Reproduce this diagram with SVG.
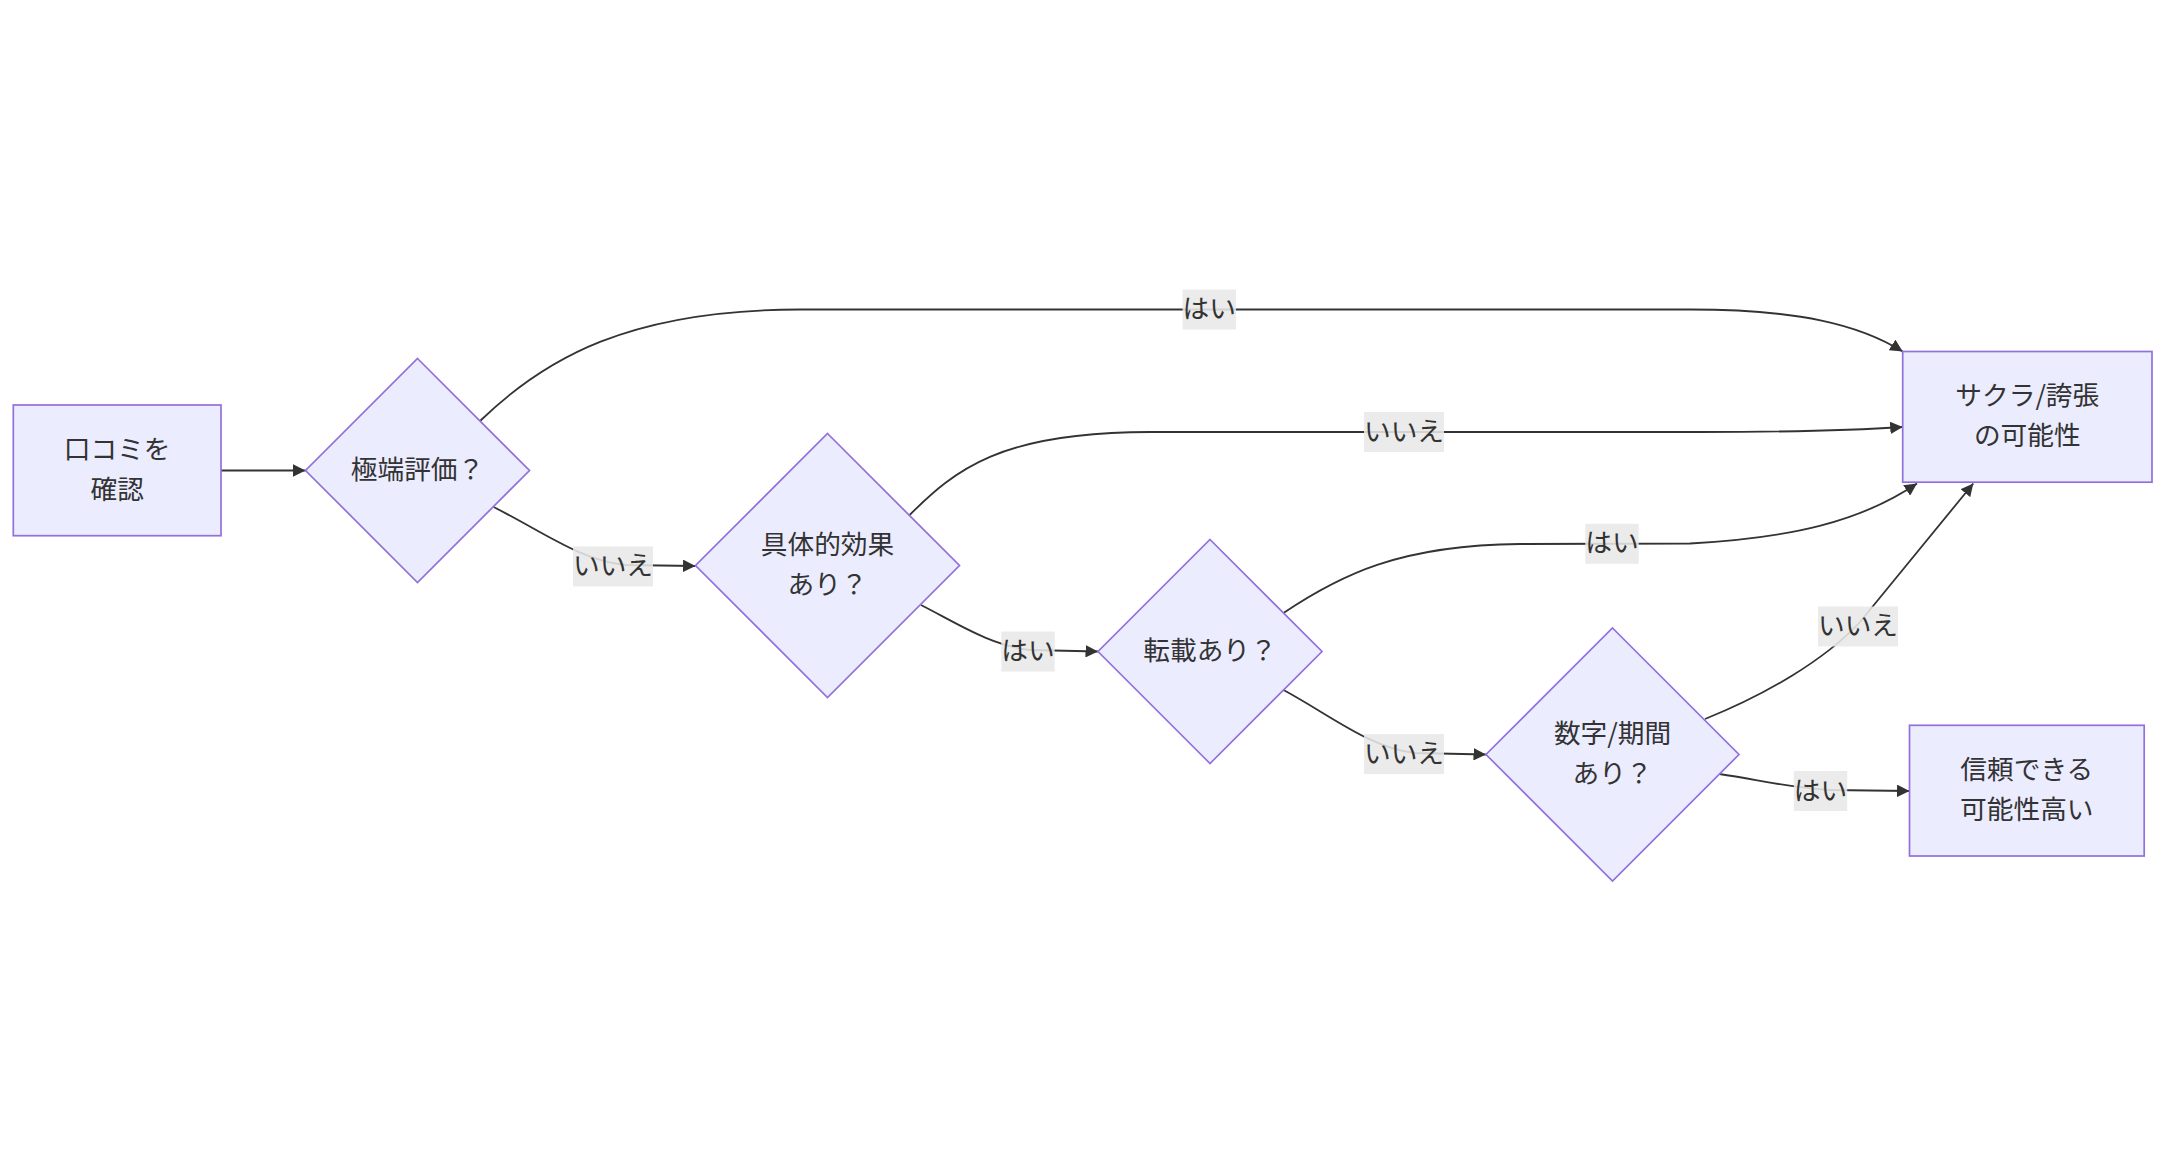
<svg xmlns="http://www.w3.org/2000/svg" width="2165" height="1170" viewBox="0 0 2165 1170">
<style>
  .node rect, .node polygon { fill: #ECECFF; stroke: #9370DB; stroke-width: 1.7; }
  .ntext { font-family: "Noto Sans CJK JP", "Liberation Sans", sans-serif; font-size: 26.7px; fill: #333333; text-anchor: middle; }
  .edge { fill: none; stroke: #333333; stroke-width: 1.8; }
  .lbl rect { fill: #e8e8e8; opacity: 0.88; }
  .lbl text { font-family: "Noto Sans CJK JP", "Liberation Sans", sans-serif; font-size: 26.7px; fill: #333333; text-anchor: middle; }
</style>
<defs>
  <marker id="arrow" viewBox="0 0 10 10" refX="10" refY="5" markerWidth="12.5" markerHeight="12.5" markerUnits="userSpaceOnUse" orient="auto">
    <path d="M0,0 L10,5 L0,10 z" fill="#333333"/>
  </marker>
</defs>
<rect x="0" y="0" width="2165" height="1170" fill="#ffffff"/>

<g id="edges">
  <path class="edge" marker-end="url(#arrow)" d="M 221 470.5 L 305.5 470.5"/>
  <path class="edge" marker-end="url(#arrow)" d="M 480 421 C 545 358, 630 309.5, 800 309.5 L 1690 309.5 C 1800 309.5, 1860 325, 1902.7 351.5"/>
  <path class="edge" marker-end="url(#arrow)" d="M 493.6 507 C 545 533, 580 560, 625 565 L 695.5 566"/>
  <path class="edge" marker-end="url(#arrow)" d="M 909.6 515 C 955 470, 1000 432, 1150 432 L 1700 432 C 1800 432, 1860 430, 1902.7 427"/>
  <path class="edge" marker-end="url(#arrow)" d="M 921 605 C 960 625, 990 645, 1030 650 L 1098 651.5"/>
  <path class="edge" marker-end="url(#arrow)" d="M 1283.5 613 C 1340 575, 1400 545, 1520 544 L 1690 543.5 C 1790 538, 1860 522, 1917 483.5"/>
  <path class="edge" marker-end="url(#arrow)" d="M 1283.5 690 C 1330 715, 1370 748, 1415 753 L 1486 754.5"/>
  <path class="edge" marker-end="url(#arrow)" d="M 1705 719 C 1765 695, 1825 660, 1860 622 L 1973.3 483.5"/>
  <path class="edge" marker-end="url(#arrow)" d="M 1719.5 774 C 1760 780, 1790 788, 1830 790 L 1909.5 791"/>
</g>

<g id="edge-labels">
  <g class="lbl"><rect x="1182.6" y="289.5" width="53.4" height="40"/><text x="1209.3" y="318">はい</text></g>
  <g class="lbl"><rect x="1364" y="412" width="80" height="40"/><text x="1404" y="440.5">いいえ</text></g>
  <g class="lbl"><rect x="573" y="546.4" width="80" height="40"/><text x="613" y="574.9">いいえ</text></g>
  <g class="lbl"><rect x="1001.3" y="631.5" width="53.4" height="40"/><text x="1028" y="660">はい</text></g>
  <g class="lbl"><rect x="1585.3" y="523.8" width="53.4" height="40"/><text x="1612" y="552.3">はい</text></g>
  <g class="lbl"><rect x="1364" y="734" width="80" height="40"/><text x="1404" y="762.5">いいえ</text></g>
  <g class="lbl"><rect x="1818" y="606.5" width="80" height="40"/><text x="1858" y="635">いいえ</text></g>
  <g class="lbl"><rect x="1793.8" y="771" width="53.4" height="40"/><text x="1820.5" y="799.5">はい</text></g>
</g>

<g id="node-A" class="node">
  <rect x="13.3" y="405" width="207.7" height="130.7"/>
  <text class="ntext" x="117.2" y="458.9">口コミを</text>
  <text class="ntext" x="117.2" y="499">確認</text>
</g>
<g id="node-B" class="node">
  <polygon points="417.5,358.5 529.5,470.5 417.5,582.5 305.5,470.5"/>
  <text class="ntext" x="417.5" y="479">極端評価？</text>
</g>
<g id="node-C" class="node">
  <polygon points="827.5,433.5 959.5,565.5 827.5,697.5 695.5,565.5"/>
  <text class="ntext" x="827.5" y="554">具体的効果</text>
  <text class="ntext" x="827.5" y="594">あり？</text>
</g>
<g id="node-D" class="node">
  <polygon points="1210,539.5 1322,651.5 1210,763.5 1098,651.5"/>
  <text class="ntext" x="1210" y="660">転載あり？</text>
</g>
<g id="node-E" class="node">
  <polygon points="1612.5,628 1739,754.5 1612.5,881 1486,754.5"/>
  <text class="ntext" x="1612.5" y="743">数字/期間</text>
  <text class="ntext" x="1612.5" y="783">あり？</text>
</g>
<g id="node-F" class="node">
  <rect x="1902.7" y="351.5" width="249.3" height="130.7"/>
  <text class="ntext" x="2027.3" y="405.3">サクラ/誇張</text>
  <text class="ntext" x="2027.3" y="445.3">の可能性</text>
</g>
<g id="node-G" class="node">
  <rect x="1909.5" y="725.3" width="234.7" height="130.7"/>
  <text class="ntext" x="2026.8" y="779.1">信頼できる</text>
  <text class="ntext" x="2026.8" y="819.1">可能性高い</text>
</g>
</svg>
